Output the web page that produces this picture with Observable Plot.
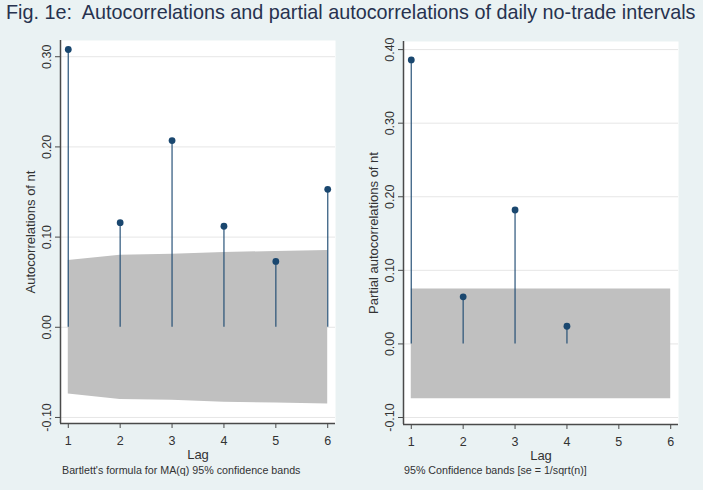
<!DOCTYPE html>
<html>
<head>
<meta charset="utf-8">
<script src="https://cdn.jsdelivr.net/npm/d3@7"></script>
<script src="https://cdn.jsdelivr.net/npm/@observablehq/plot@0.6"></script>
<style>
  body { margin: 0; background: #eaf2f3; }
  #fig { position: relative; width: 703px; height: 490px; background: #eaf2f3; overflow: hidden;
         font-family: "Liberation Sans", Arial, Helvetica, sans-serif; }
  #title { position: absolute; left: 6px; top: 1px; font-size: 19.8px; color: #27324f; white-space: nowrap; }
  .panel { position: absolute; top: 0; }
  .note { position: absolute; top: 464px; font-size: 10.7px; color: #333; white-space: nowrap; }
</style>
</head>
<body>
<div id="fig">
  <div id="title">Fig. 1e:&nbsp; Autocorrelations and partial autocorrelations of daily no-trade intervals</div>
  <div id="left" class="panel" style="left:0px"></div>
  <div id="right" class="panel" style="left:343px"></div>
  <div class="note" style="left:62px">Bartlett's formula for MA(q) 95% confidence bands</div>
  <div class="note" style="left:404px">95% Confidence bands [se = 1/sqrt(n)]</div>
</div>
<script>
// Lags shown on both panels
const lags = [1, 2, 3, 4, 5, 6];
const lagTicks = [1, 2, 3, 4, 5, 6];

// Autocorrelations of nt and Bartlett MA(q) 95% band half-widths
const acf = [0.308, 0.116, 0.207, 0.112, 0.073, 0.153];
const acfBand = [0.074, 0.080, 0.081, 0.083, 0.084, 0.085];
const acfTicks = [-0.1, 0, 0.1, 0.2, 0.3];

// Partial autocorrelations of nt (lags 1-4) and 1/sqrt(n) band half-width
const pacfLags = [1, 2, 3, 4];
const pacf = [0.386, 0.064, 0.182, 0.024];
const pacfBand = 0.0745;
const pacfTicks = [-0.1, 0, 0.1, 0.2, 0.3, 0.4];

const navy = "#1a476f";
const axisColor = "#4a4a4a";
const textColor = "#333";
const font = "'Liberation Sans', Arial, Helvetica, sans-serif";

function panel({values, valueLags, bands, yDomain, yTicks, yLabel, marginTop, marginBottom}) {
  const pts = valueLags.map((lag, i) => ({lag, r: values[i]}));
  const band = lags.map((lag, i) => ({lag, hw: bands[i]}));
  const xDomain = [0.85, 6.15];
  return Plot.plot({
    width: 345,
    height: 490,
    marginLeft: 60,
    marginRight: 10,
    marginTop,
    marginBottom,
    style: {background: "transparent", fontSize: "12px", fontFamily: font, color: textColor},
    x: {domain: xDomain},
    y: {domain: yDomain},
    marks: [
      Plot.frame({fill: "white", stroke: null}),
      Plot.gridY(yTicks, {stroke: "#e6e6e6", strokeOpacity: 1, strokeWidth: 1}),
      Plot.areaY(band, {x: "lag", y1: d => -d.hw, y2: "hw", fill: "#c0c0c0", curve: "linear"}),
      Plot.ruleX(pts, {x: "lag", y1: 0, y2: "r", stroke: navy, strokeWidth: 1.4, strokeOpacity: 0.8}),
      Plot.dot(pts, {x: "lag", y: "r", r: 3.4, fill: navy, stroke: null}),
      Plot.ruleX([xDomain[0]], {stroke: axisColor, strokeWidth: 1.5}),
      Plot.ruleY([yDomain[0]], {stroke: axisColor, strokeWidth: 1.5}),
      Plot.axisY(yTicks, {
        tickFormat: d => d.toFixed(2), tickRotate: -90, tickSize: 5, tickPadding: 5,
        stroke: axisColor, fill: textColor, fontSize: 12.5, label: null
      }),
      Plot.axisX(lagTicks, {
        tickFormat: d => String(d), tickSize: 5, tickPadding: 8, stroke: axisColor,
        fill: textColor, fontSize: 12.5, label: null
      }),
      // axis titles
      Plot.text([yLabel], {
        frameAnchor: "left", rotate: -90, textAnchor: "middle", lineAnchor: "bottom",
        dx: -25.5, fontSize: 13, fill: textColor
      }),
      Plot.text(["Lag"], {
        frameAnchor: "bottom", textAnchor: "middle", lineAnchor: "bottom",
        dy: 35, fontSize: 13, fill: textColor
      })
    ]
  });
}

document.getElementById("left").append(panel({
  values: acf, valueLags: lags, bands: acfBand,
  yDomain: [-0.1067, 0.318], yTicks: acfTicks,
  yLabel: "Autocorrelations of nt", marginTop: 40, marginBottom: 67
}));

document.getElementById("right").append(panel({
  values: pacf, valueLags: pacfLags, bands: lags.map(() => pacfBand),
  yDomain: [-0.1095, 0.411], yTicks: pacfTicks,
  yLabel: "Partial autocorrelations of nt", marginTop: 41, marginBottom: 66
}));
</script>
</body>
</html>
